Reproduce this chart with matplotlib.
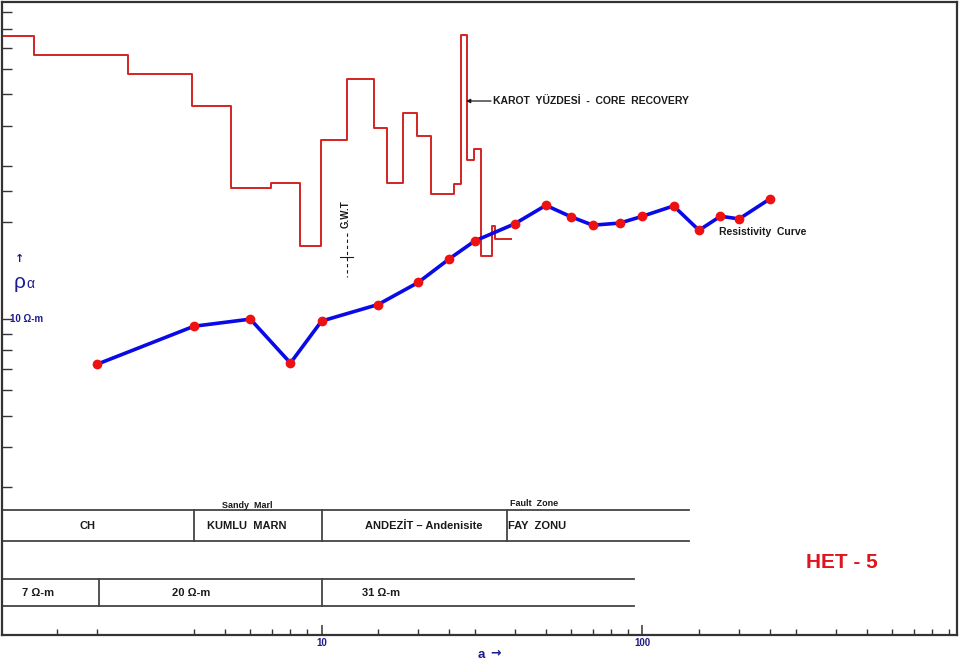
import matplotlib
matplotlib.use('Agg')
import matplotlib.pyplot as plt
from matplotlib.transforms import blended_transform_factory
from matplotlib.ticker import NullFormatter, FixedLocator

plt.rcParams['font.family'] = ['Liberation Sans', 'DejaVu Sans']

# ---- data ----
ab2 = [2, 4, 6, 8, 10, 15, 20, 25, 30, 40, 50, 60, 70, 85, 100, 125, 150, 175, 200, 250]
rho = [7.24, 9.5, 10.0, 7.3, 9.86, 11.1, 13.0, 15.4, 17.5, 19.8, 22.6, 20.8, 19.6, 19.9,
       20.9, 22.5, 18.9, 20.9, 20.5, 23.7]

core_edges = [1.014, 1.27, 2.49, 3.94, 5.21, 6.94, 8.54, 9.93, 12.0, 14.6, 16.05, 18.0,
              19.9, 21.9, 25.8, 27.1, 28.3, 29.8, 31.5, 33.9, 34.6, 38.8]
core_levels = [76.1, 66.4, 58.0, 46.1, 25.6, 26.5, 16.9, 36.1, 55.9, 39.4, 26.5, 43.8,
               37.2, 24.5, 26.3, 76.7, 31.3, 33.9, 15.7, 19.5, 17.7]

lith_bounds = [4, 10, 37.7]
lith_end = 140
res_bounds = [2.03, 10]
res_end = 94.4

x_minor = [1.5, 2, 4, 5, 6, 7, 8, 9, 15, 20, 25, 30, 40, 50, 60, 70, 80, 90,
           150, 200, 250, 300, 400, 500, 600, 700, 800, 900]
x_major = [10, 100]
y_minor = [3, 4, 5, 6, 7, 8, 9, 20, 25, 30, 40, 50, 60, 70, 80, 90]
y_major = [10]

W, H = 959, 661
fig = plt.figure(figsize=(W / 100, H / 100), dpi=100)
ax = fig.add_axes([2 / W, 26 / H, 955 / W, 633 / H])
ax.set_xscale('log')
ax.set_yscale('log')
ax.set_xlim(1.01, 955)
ax.set_ylim(1.04, 97)

for s in ax.spines.values():
    s.set_color('#333333')
    s.set_linewidth(1.6)

ax.xaxis.set_major_locator(FixedLocator(x_major))
ax.xaxis.set_minor_locator(FixedLocator(x_minor))
ax.yaxis.set_major_locator(FixedLocator(y_major))
ax.yaxis.set_minor_locator(FixedLocator(y_minor))
for a in (ax.xaxis, ax.yaxis):
    a.set_major_formatter(NullFormatter())
    a.set_minor_formatter(NullFormatter())
ax.tick_params(axis='x', which='major', direction='in', length=7, width=1.1, color='#333333')
ax.tick_params(axis='x', which='minor', direction='in', length=4.5, width=1.0, color='#333333')
ax.tick_params(axis='y', which='both', direction='in', length=7, width=1.0, color='#333333')


def fx(px):
    return (px - 2) / 955


def fy(py):
    return (635 - py) / 633


TA = ax.transAxes
bl = blended_transform_factory(ax.transData, ax.transAxes)
navy = '#1c1c8c'
dark = '#1a1a1a'
linec = '#444444'

# core recovery step curve
ax.plot(core_edges, core_levels + [core_levels[-1]], drawstyle='steps-post',
        color='#d42424', lw=1.4, zorder=2)

# resistivity curve
ax.plot(ab2, rho, color='#0a0ae6', lw=2.6, zorder=3,
        marker='o', markersize=6, markerfacecolor='#ee1111', markeredgecolor='#ee1111')

# ---- tables ----
for yy, xe in [(fy(510), lith_end), (fy(541), lith_end), (fy(579), res_end), (fy(606), res_end)]:
    ax.plot([1.01, xe], [yy, yy], transform=bl, color=linec, lw=1.3, clip_on=False)
for xb in lith_bounds:
    ax.plot([xb, xb], [fy(541), fy(510)], transform=bl, color=linec, lw=1.3)
for xb in res_bounds:
    ax.plot([xb, xb], [fy(606), fy(579)], transform=bl, color=linec, lw=1.3)

ax.text(fx(87), fy(526), 'CH', transform=TA, ha='center', va='center', fontsize=8, fontweight='bold', color=dark)
ax.text(fx(247), fy(526), 'KUMLU  MARN', transform=TA, ha='center', va='center', fontsize=8, fontweight='bold', color=dark)
ax.text(fx(424), fy(526), 'ANDEZİT – Andenisite', transform=TA, ha='center', va='center', fontsize=8, fontweight='bold', color=dark)
ax.text(fx(508), fy(526), 'FAY  ZONU', transform=TA, ha='left', va='center', fontsize=8, fontweight='bold', color=dark)
ax.text(fx(247), fy(506), 'Sandy  Marl', transform=TA, ha='center', va='center', fontsize=6.5, fontweight='bold', color=dark)
ax.text(fx(534), fy(503), 'Fault  Zone', transform=TA, ha='center', va='center', fontsize=6.5, fontweight='bold', color=dark)
ax.text(fx(38), fy(593), '7 Ω-m', transform=TA, ha='center', va='center', fontsize=8, fontweight='bold', color=dark)
ax.text(fx(191), fy(593), '20 Ω-m', transform=TA, ha='center', va='center', fontsize=8, fontweight='bold', color=dark)
ax.text(fx(381), fy(593), '31 Ω-m', transform=TA, ha='center', va='center', fontsize=8, fontweight='bold', color=dark)

ax.text(fx(842), fy(562), 'HET - 5', transform=TA, ha='center', va='center', fontsize=15, fontweight='bold', color='#e0141e')

# annotations
ax.text(fx(493), fy(101), 'KAROT  YÜZDESİ  -  CORE  RECOVERY', transform=TA, ha='left', va='center',
        fontsize=7.5, fontweight='bold', color=dark)
ax.annotate('', xy=(fx(466), fy(101)), xytext=(fx(491), fy(101)), xycoords=TA, textcoords=TA,
            arrowprops=dict(arrowstyle='-|>', color=dark, lw=0.9, mutation_scale=6, shrinkA=0, shrinkB=0))
ax.text(fx(719), fy(232), 'Resistivity  Curve', transform=TA, ha='left', va='center',
        fontsize=7.5, fontweight='bold', color=dark)

# G.W.T marker
ax.text(fx(346), fy(214), 'G.W.T', transform=TA, ha='center', va='center', rotation=90,
        fontsize=7, fontweight='bold', color=dark)
ax.plot([fx(347), fx(347)], [fy(233), fy(277)], transform=TA, color=dark, lw=0.8, ls=(0, (3, 2.5)))
ax.plot([fx(340), fx(353)], [fy(257), fy(257)], transform=TA, color=dark, lw=0.8)

# axis labels
ax.text(fx(10), 10, '10 Ω-m', transform=blended_transform_factory(ax.transAxes, ax.transData),
        ha='left', va='center', fontsize=7, fontweight='bold', color=navy)
ax.text(fx(20), fy(259), '↑', transform=TA, ha='center', va='center', fontsize=8,
        fontweight='bold', family=['DejaVu Sans'], color=navy)
ax.text(fx(20), fy(282), 'ρ', transform=TA, ha='center', va='center', fontsize=15, color=navy)
ax.text(fx(30), fy(284), 'α', transform=TA, ha='center', va='center', fontsize=10, color=navy)

for xv in x_major:
    ax.text(xv, fy(643), str(xv), transform=bl, ha='center', va='center', fontsize=7,
            fontweight='bold', color=navy, clip_on=False)
ax.text(fx(481), fy(655), 'a', transform=TA, ha='center', va='center', fontsize=9.5,
        fontweight='bold', color=navy, clip_on=False)
ax.text(fx(496), fy(653), '→', transform=TA, ha='center', va='center', fontsize=9,
        fontweight='bold', family=['DejaVu Sans'], color=navy, clip_on=False)

fig.savefig('out.png', dpi=100, facecolor='white')
